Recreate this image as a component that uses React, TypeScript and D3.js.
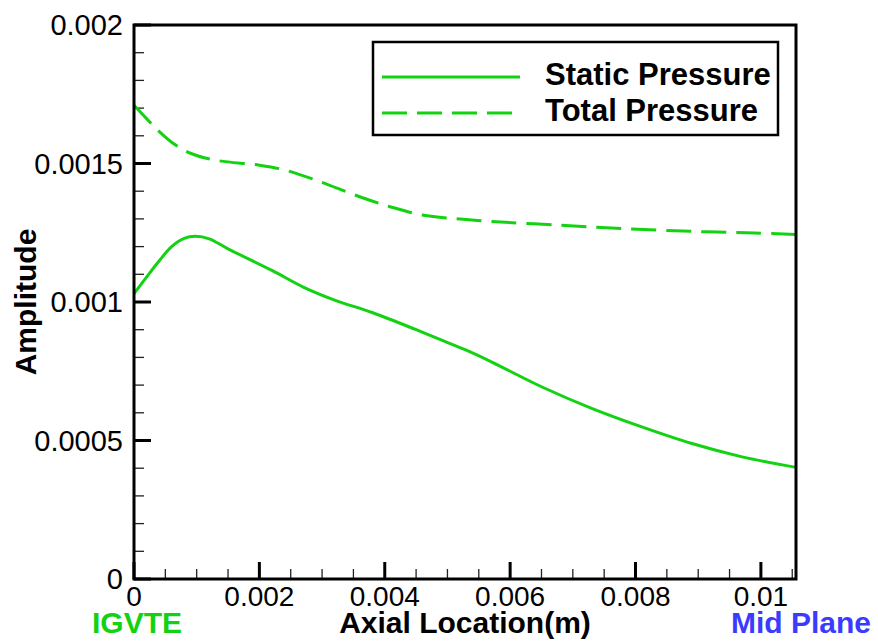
import React from "react";
import * as d3 from "d3";

// Axial location (m) and amplitude samples for each pressure trace
const staticX = [0, 0.0002, 0.0004, 0.0006, 0.0008, 0.00098, 0.0012, 0.0015, 0.0022, 0.0027, 0.0032, 0.0038, 0.0045, 0.0049, 0.0053, 0.0057, 0.0065, 0.0073, 0.0081, 0.0089, 0.0097, 0.01056];
const staticY = [0.00103, 0.00109, 0.001148, 0.0012, 0.00123, 0.001237, 0.001228, 0.001192, 0.001114, 0.001054, 0.001007, 0.000962, 0.0009, 0.000863, 0.000826, 0.000784, 0.000694, 0.000616, 0.000549, 0.000489, 0.000441, 0.000403];

const totalX = [0, 0.0002, 0.0004, 0.0006, 0.0009, 0.0013, 0.002, 0.0024, 0.0029, 0.0036, 0.0041, 0.0046, 0.0053, 0.0057, 0.0068, 0.0078, 0.0089, 0.0099, 0.01056];
const totalY = [0.00171, 0.001662, 0.001616, 0.001577, 0.001537, 0.001512, 0.001494, 0.001477, 0.00144, 0.00138, 0.001343, 0.001314, 0.001298, 0.001291, 0.001277, 0.001265, 0.001255, 0.001249, 0.001244];

const xMajorTicks = [0, 0.002, 0.004, 0.006, 0.008, 0.01];
const xTickLabels = ["0", "0.002", "0.004", "0.006", "0.008", "0.01"];
const yMajorTicks = [0, 0.0005, 0.001, 0.0015, 0.002];
const yTickLabels = ["0", "0.0005", "0.001", "0.0015", "0.002"];

const seriesNames = ["Static Pressure", "Total Pressure"];

const W = 878;
const H = 642;
const left = 134;
const right = 796;
const top = 25;
const bottom = 579;
const xMax = 0.01056;
const GREEN = "#12d212";
const FONT = "'Liberation Sans', Arial, Helvetica, sans-serif";

export default function App() {
  const x = d3.scaleLinear().domain([0, xMax]).range([left, right]);
  const y = d3.scaleLinear().domain([0, 0.002]).range([bottom, top]);

  const line = d3
    .line<[number, number]>()
    .x((d) => x(d[0]))
    .y((d) => y(d[1]))
    .curve(d3.curveCatmullRom.alpha(0.5));

  const staticPts = staticX.map((v, i) => [v, staticY[i]] as [number, number]);
  const totalPts = totalX.map((v, i) => [v, totalY[i]] as [number, number]);

  const xMinor = d3.range(0, 22).map((i) => i * 0.0005).filter((v) => v <= xMax && !xMajorTicks.some((m) => Math.abs(m - v) < 1e-9));
  const yMinor = d3.range(0, 21).map((i) => i * 0.0001).filter((v) => !yMajorTicks.some((m) => Math.abs(m - v) < 1e-9));

  return (
    <svg
      width={W}
      height={H}
      style={{ position: "absolute", left: 0, top: 0, background: "#fff" }}
      fontFamily={FONT}
    >
      <rect x={0} y={0} width={W} height={H} fill="#fff" />

      {/* minor ticks */}
      {xMinor.map((v) => (
        <line key={"xm" + v} x1={x(v)} x2={x(v)} y1={bottom} y2={bottom - 10} stroke="#222" strokeWidth={1.3} />
      ))}
      {yMinor.map((v) => (
        <line key={"ym" + v} x1={left} x2={left + 10} y1={y(v)} y2={y(v)} stroke="#222" strokeWidth={1.3} />
      ))}
      {/* major ticks */}
      {xMajorTicks.map((v) => (
        <line key={"xM" + v} x1={x(v)} x2={x(v)} y1={bottom} y2={bottom - 17} stroke="#000" strokeWidth={3} />
      ))}
      {yMajorTicks.map((v) => (
        <line key={"yM" + v} x1={left} x2={left + 17} y1={y(v)} y2={y(v)} stroke="#000" strokeWidth={3} />
      ))}

      {/* curves */}
      <path d={line(staticPts) || ""} fill="none" stroke={GREEN} strokeWidth={3} />
      <path d={line(totalPts) || ""} fill="none" stroke={GREEN} strokeWidth={3} strokeDasharray="25,10" />

      {/* frame */}
      <rect x={left} y={top} width={right - left} height={bottom - top} fill="none" stroke="#000" strokeWidth={3} />

      {/* tick labels */}
      {xMajorTicks.map((v, i) => (
        <text key={"xl" + v} x={x(v)} y={606} textAnchor="middle" fontSize={28} fill="#000">
          {xTickLabels[i]}
        </text>
      ))}
      {yMajorTicks.map((v, i) => (
        <text key={"yl" + v} x={123} y={y(v)} dy="0.36em" textAnchor="end" fontSize={29} fill="#000">
          {yTickLabels[i]}
        </text>
      ))}

      {/* axis titles */}
      <text x={(left + right) / 2} y={633} textAnchor="middle" fontSize={30} fontWeight="bold" fill="#000">
        Axial Location(m)
      </text>
      <text
        transform={`translate(36,${(top + bottom) / 2}) rotate(-90)`}
        textAnchor="middle"
        fontSize={30}
        fontWeight="bold"
        fill="#000"
      >
        Amplitude
      </text>
      <text x={92} y={633} fontSize={30} fontWeight="bold" fill={GREEN}>
        IGVTE
      </text>
      <text x={731} y={633} fontSize={30} fontWeight="bold" fill="#3b3bff">
        Mid Plane
      </text>

      {/* legend */}
      <rect x={373} y={42} width={405} height={93} fill="#fff" stroke="#000" strokeWidth={2.5} />
      <line x1={382} x2={520} y1={77} y2={77} stroke={GREEN} strokeWidth={3} />
      <line x1={382} x2={520} y1={113} y2={113} stroke={GREEN} strokeWidth={3} strokeDasharray="25,10" />
      <text x={545} y={85} fontSize={31} fontWeight="bold" fill="#000">
        {seriesNames[0]}
      </text>
      <text x={545} y={121} fontSize={31} fontWeight="bold" fill="#000">
        {seriesNames[1]}
      </text>
    </svg>
  );
}
